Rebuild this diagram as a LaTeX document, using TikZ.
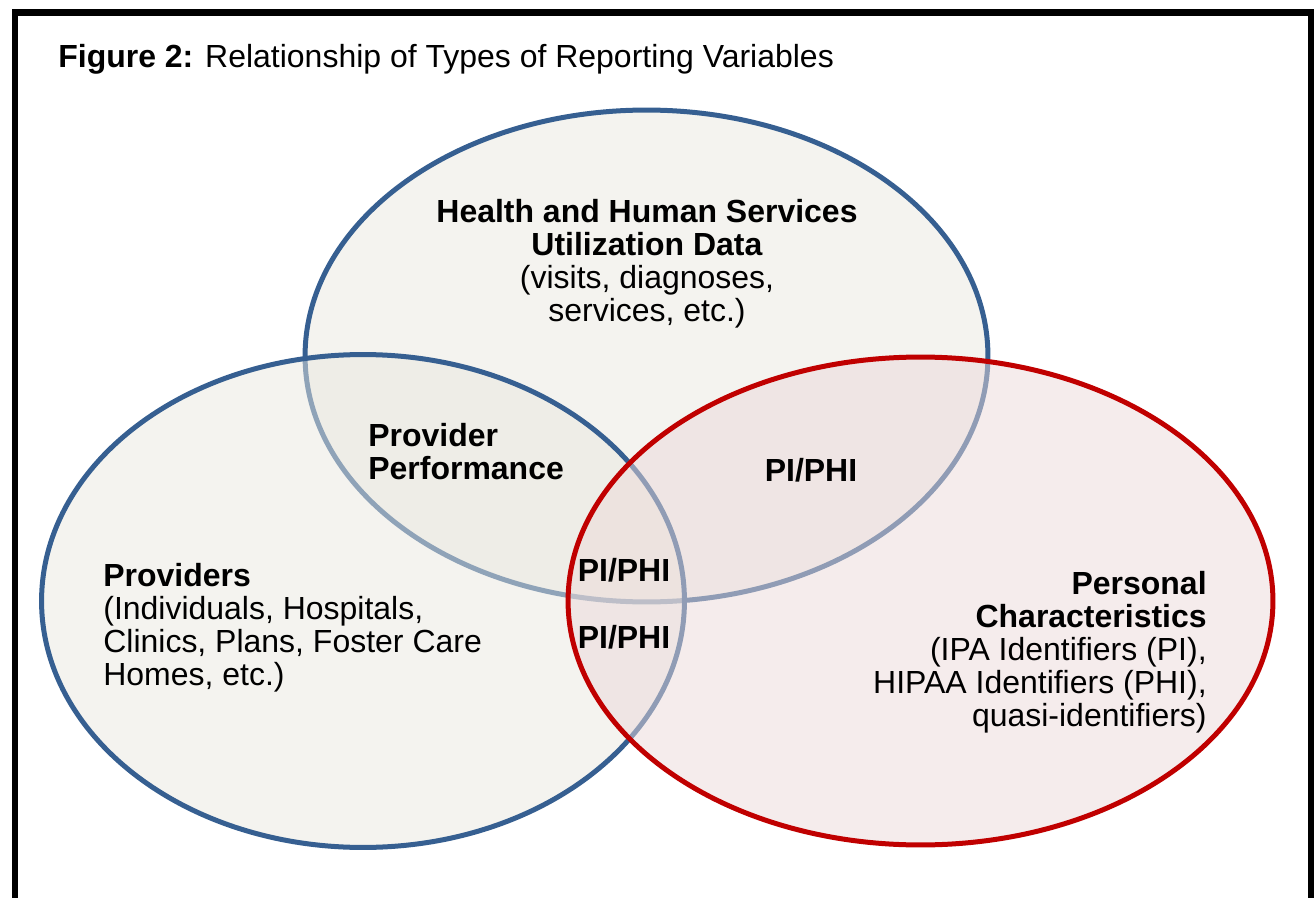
\documentclass[tikz,border=0pt]{standalone}
\usepackage{fontspec}
\setmainfont{Liberation Sans}
\definecolor{vennblue}{RGB}{54,95,145}
\definecolor{vennred}{RGB}{192,0,0}
\definecolor{tanfill}{RGB}{233,231,223}
\definecolor{rosefill}{RGB}{235,217,217}
\begin{document}
\begin{tikzpicture}[x=0.02cm,y=-0.02cm,
  every node/.style={font=\fontsize{18.2}{18.8}\selectfont,inner sep=0pt},
  blue set/.style={draw=vennblue,line width=0.1cm,fill=tanfill,fill opacity=0.5},
  red set/.style={draw=vennred,line width=0.1cm,fill=rosefill,fill opacity=0.5},
  pi node/.style={font=\fontsize{18.2}{18.8}\selectfont\bfseries}]
  \useasboundingbox (0,0) rectangle (1314,898);
  \draw[line width=0.14cm] (15,960) -- (15,13) -- (1311,13) -- (1311,960);

  % the three sets
  \path[blue set] (646.5,356) ellipse [x radius=6.83cm, y radius=4.92cm];
  \path[blue set] (363,601) ellipse [x radius=6.43cm, y radius=4.93cm];
  \path[red set] (920.5,601) ellipse [x radius=7.05cm, y radius=4.88cm];

  \node[anchor=base west] (title) at (58,68)
    {\textbf{Figure 2:} Relationship of Types of Reporting Variables};
  \node[anchor=north, align=center] (hhs) at (647,199)
    {\textbf{Health and Human Services}\\\textbf{Utilization Data}\\(visits, diagnoses,\\services, etc.)};
  \node[anchor=north west, align=left] (perf) at (368,423)
    {\textbf{Provider}\\\textbf{Performance}};
  \node[anchor=north west, align=left] (prov) at (103,563)
    {\textbf{Providers}\\(Individuals, Hospitals,\\Clinics, Plans, Foster Care\\Homes, etc.)};
  \node[anchor=north east, align=right] (pers) at (1207,571)
    {\textbf{Personal}\\\textbf{Characteristics}\\(IPA Identifiers (PI),\\HIPAA Identifiers (PHI),\\quasi-identifiers)};

  \node[pi node] (pi1) at (811,470) {PI/PHI};
  \node[pi node] (pi2) at (624,570) {PI/PHI};
  \node[pi node] (pi3) at (624,637) {PI/PHI};
\end{tikzpicture}
\end{document}
